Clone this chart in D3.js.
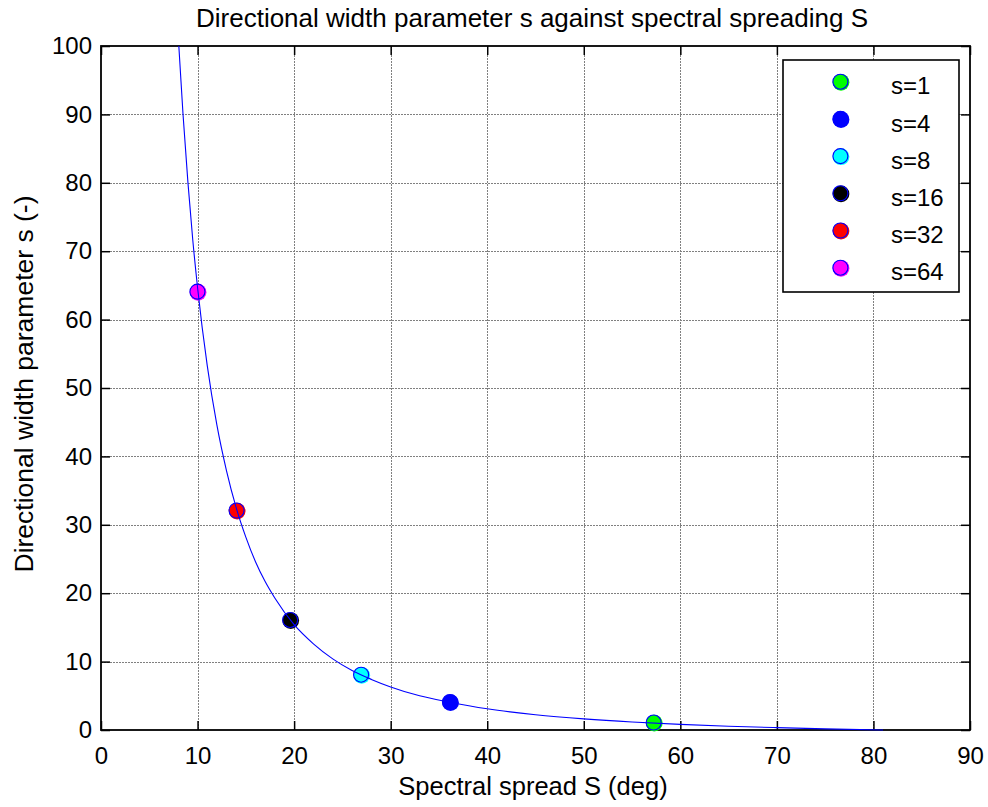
<!DOCTYPE html>
<html>
<head>
<meta charset="utf-8">
<script src="https://cdn.jsdelivr.net/npm/d3@7/dist/d3.min.js"></script>
<style>
  html, body { margin: 0; padding: 0; background: #fff; }
  svg { display: block; font-family: Arial, "Liberation Sans", Helvetica, sans-serif; }
</style>
</head>
<body>
<svg id="chart" width="988" height="807"></svg>
<script>
// Spreading curve: spectral spread S (deg) and directional width parameter s
const curveS = [8.06, 8.5, 9, 9.5, 10, 11, 12, 13, 14, 15, 16, 17, 18, 20, 22, 24, 26, 28, 30, 33, 36, 40, 45, 50, 55, 60, 65, 70, 75, 81];
const curveVals = [100, 89.9, 80.1, 71.7, 64.7, 53.3, 44.6, 37.9, 32.5, 28.2, 24.6, 21.7, 19.3, 15.4, 12.6, 10.4, 8.7, 7.4, 6.3, 5.0, 4.1, 3.1, 2.24, 1.63, 1.17, 0.82, 0.55, 0.34, 0.17, 0];

// Highlighted cases
const markerLabels = ["s=1", "s=4", "s=8", "s=16", "s=32", "s=64"];
const markerVals = [1, 4, 8, 16, 32, 64];
const markerS = [57.3, 36.2, 27.0, 19.65, 14.1, 10.05];
const markerColors = ["#00ff00", "#0000ff", "#00ffff", "#000000", "#ff0000", "#ff00ff"];

// Axis ticks
const xTicks = [0, 10, 20, 30, 40, 50, 60, 70, 80, 90];
const yTicks = [0, 10, 20, 30, 40, 50, 60, 70, 80, 90, 100];

const svg = d3.select("#chart");
const L = 101, R = 970, T = 46, B = 730;
const x = d3.scaleLinear().domain([0, 90]).range([L, R]);
const y = d3.scaleLinear().domain([0, 100]).range([B, T]);

// Grid
const grid = svg.append("g").attr("stroke", "#808080").attr("stroke-width", 1).attr("stroke-dasharray", "2,1");
grid.selectAll(".gx").data(xTicks.slice(1, -1)).join("line")
  .attr("x1", d => Math.round(x(d)) + 0.5).attr("x2", d => Math.round(x(d)) + 0.5)
  .attr("y1", T).attr("y2", B);
grid.selectAll(".gy").data(yTicks.slice(1, -1)).join("line")
  .attr("y1", d => Math.round(y(d)) + 0.5).attr("y2", d => Math.round(y(d)) + 0.5)
  .attr("x1", L).attr("x2", R);

// Axes with inward ticks on all four sides
const tickLen = 9;
const fmt = d3.format("d");
const axB = svg.append("g").attr("transform", `translate(0,${B})`)
  .call(d3.axisBottom(x).tickValues(xTicks).tickFormat(fmt).tickSizeInner(-tickLen).tickSizeOuter(0).tickPadding(17));
const axT = svg.append("g").attr("transform", `translate(0,${T})`)
  .call(d3.axisTop(x).tickValues(xTicks).tickFormat("").tickSizeInner(-tickLen).tickSizeOuter(0));
const axL = svg.append("g").attr("transform", `translate(${L},0)`)
  .call(d3.axisLeft(y).tickValues(yTicks).tickFormat(fmt).tickSizeInner(-tickLen).tickSizeOuter(0).tickPadding(9));
const axR = svg.append("g").attr("transform", `translate(${R},0)`)
  .call(d3.axisRight(y).tickValues(yTicks).tickFormat("").tickSizeInner(-tickLen).tickSizeOuter(0));
[axB, axT, axL, axR].forEach(a => {
  a.select(".domain").remove();
  a.selectAll(".tick line").attr("stroke", "#000").attr("stroke-width", 1.5);
  a.selectAll(".tick text").attr("fill", "#000").attr("font-size", 24).attr("font-family", "Arial, 'Liberation Sans', sans-serif");
});
axB.selectAll(".tick text").attr("dy", "0.71em");

// Frame
svg.append("rect").attr("x", L).attr("y", T).attr("width", R - L).attr("height", B - T)
  .attr("fill", "none").attr("stroke", "#000").attr("stroke-width", 1.8);

// Markers
function drawMarker(g, cx, cy, color) {
  g.append("circle").attr("cx", cx).attr("cy", cy).attr("r", 8.4).attr("fill", color);
  g.append("circle").attr("cx", cx - 0.6).attr("cy", cy - 0.6).attr("r", 7.5)
    .attr("fill", "none").attr("stroke", "#0000ff").attr("stroke-width", 1.1);
}
const mk = svg.append("g");
markerVals.forEach((v, i) => drawMarker(mk, x(markerS[i]), y(v), markerColors[i]));

// Curve
const pts = curveS.map((s, i) => [s, curveVals[i]]);
const line = d3.line().x(d => x(d[0])).y(d => y(d[1])).curve(d3.curveMonotoneX);
svg.append("path").datum(pts).attr("d", line)
  .attr("fill", "none").attr("stroke", "#0000ff").attr("stroke-width", 1.1);

// Title and axis labels
svg.append("text").attr("x", 532).attr("y", 27).attr("text-anchor", "middle")
  .attr("font-size", 26).attr("fill", "#000")
  .text("Directional width parameter s against spectral spreading S");
svg.append("text").attr("x", 533).attr("y", 795).attr("text-anchor", "middle")
  .attr("font-size", 25.5).attr("fill", "#000")
  .text("Spectral spread S (deg)");
svg.append("text").attr("transform", "translate(33,384) rotate(-90)").attr("text-anchor", "middle")
  .attr("font-size", 26.5).attr("fill", "#000")
  .text("Directional width parameter s (-)");

// Legend
const lg = svg.append("g");
lg.append("rect").attr("x", 783).attr("y", 60).attr("width", 176).attr("height", 232)
  .attr("fill", "#fff").attr("stroke", "#000").attr("stroke-width", 1.6);
const rowY = d3.scaleLinear().domain([0, 5]).range([82.3, 268.3]);
markerLabels.forEach((lab, i) => {
  drawMarker(lg, 841, rowY(i), markerColors[i]);
  lg.append("text").attr("x", 891).attr("y", rowY(i) + 12).attr("font-size", 24).attr("fill", "#000").text(lab);
});
</script>
</body>
</html>
